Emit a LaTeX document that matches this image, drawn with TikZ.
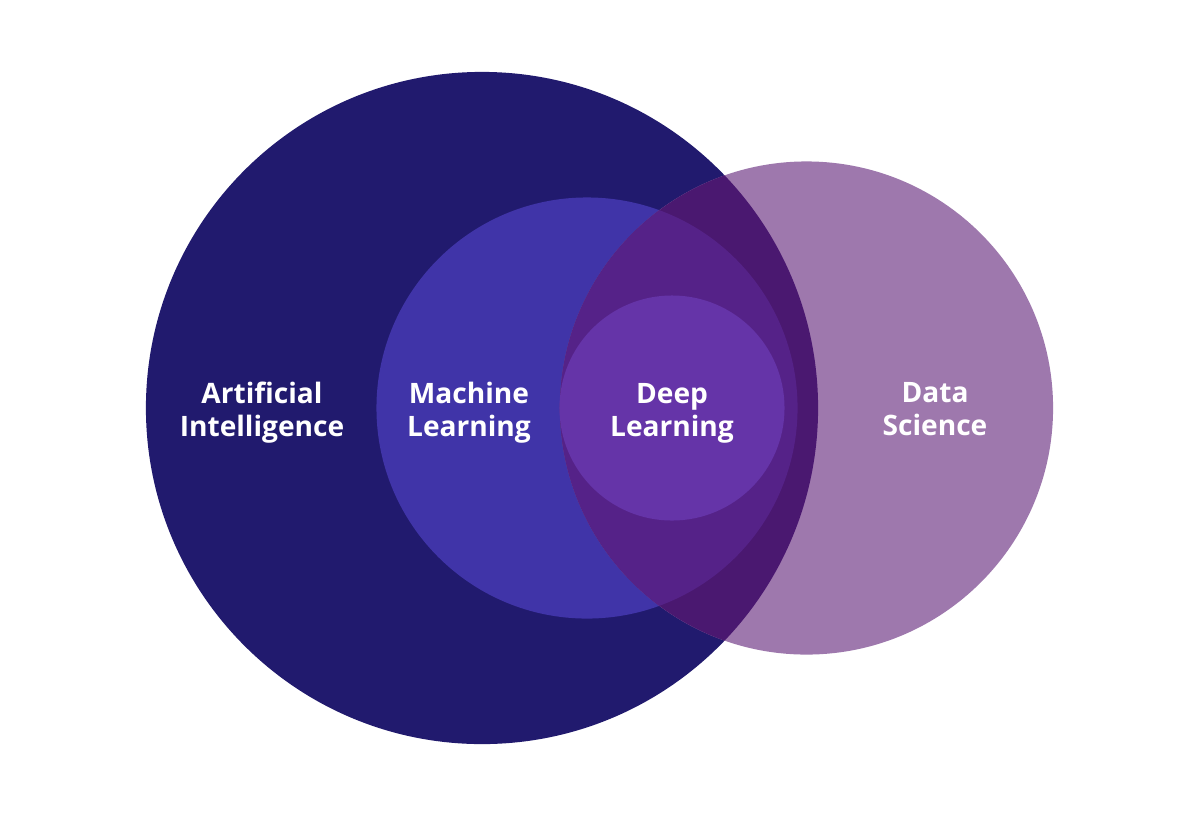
\documentclass[tikz,border=0pt]{standalone}
\usepackage{fontspec}
\setmainfont{Open Sans}
\usetikzlibrary{positioning}
\definecolor{aicol}{HTML}{211A6E}
\definecolor{mlcol}{HTML}{4034A8}
\definecolor{dscol}{HTML}{9E78AD}
\definecolor{dsaicol}{HTML}{4A1870}
\definecolor{dsmlcol}{HTML}{552288}
\definecolor{dlcol}{HTML}{6534A8}
\tikzset{x=0.025cm, y=-0.025cm}
\tikzset{set/.style={circle, inner sep=0pt, draw=none}}
\tikzset{lbl/.style={text=white, align=center, font=\fontsize{20}{23.5}\selectfont\bfseries}}

\begin{document}
\begin{tikzpicture}
        \fill[white] (0,0) rectangle (1200,816);
        \useasboundingbox (0,0) rectangle (1200,816);
        \node[set, fill=aicol, minimum size=16.8cm] (ai) at (482,408) {};
        \node[set, fill=mlcol, minimum size=10.525cm] (ml) at (587,408) {};
        \node[set, fill=dscol, minimum size=12.325cm] (ds) at (806.5,408) {};
        \begin{scope}
            \clip (ds.center) circle[radius=6.1625cm];
            \fill[dsaicol] (ai.center) circle[radius=8.4cm];
            \fill[dsmlcol] (ml.center) circle[radius=5.2625cm];
        \end{scope}
        \node[set, fill=dlcol, minimum size=5.625cm] (dl) at (672,408) {};
        \node[lbl] (ailbl) at (262,413) {Artificial\\Intelligence};
        \node[lbl] (mllbl) at (469,413) {Machine\\Learning};
        \node[lbl] (dllbl) at (672,413) {Deep\\Learning};
        \node[lbl] (dslbl) at (935,409) {Data\\Science};
\end{tikzpicture}
\end{document}
